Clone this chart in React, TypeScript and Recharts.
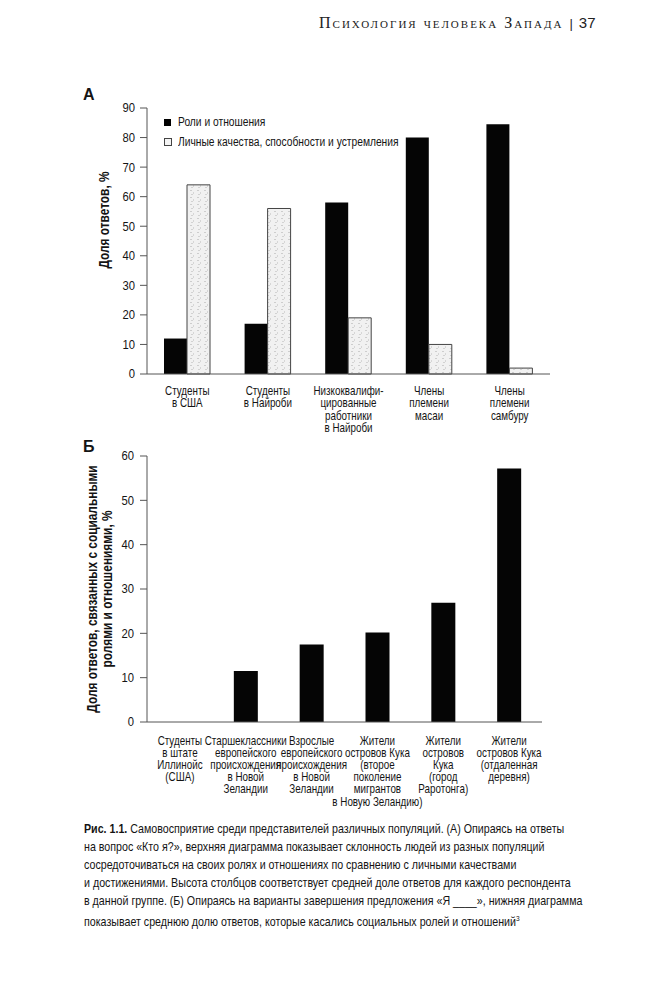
import React from 'react';
import { BarChart, Bar, XAxis, YAxis, Legend } from 'recharts';

const groupsA = [
  'Студенты\nв США',
  'Студенты\nв Найроби',
  'Низкоквалифи-\nцированные\nработники\nв Найроби',
  'Члены\nплемени\nмасаи',
  'Члены\nплемени\nсамбуру',
];
const rolesA = [12, 17, 58, 80, 84.5];
const traitsA = [64, 56, 19, 10, 2];
const ticksA = [0, 10, 20, 30, 40, 50, 60, 70, 80, 90];

const groupsB = [
  'Студенты\nв штате\nИллинойс\n(США)',
  'Старшеклассники\nевропейского\nпроисхождения\nв Новой\nЗеландии',
  'Взрослые\nевропейского\nпроисхождения\nв Новой\nЗеландии',
  'Жители\nостровов Кука\n(второе\nпоколение\nмигрантов\nв Новую Зеландию)',
  'Жители\nостровов\nКука\n(город\nРаротонга)',
  'Жители\nостровов Кука\n(отдаленная\nдеревня)',
];
const rolesB = [0, 11.5, 17.5, 20.2, 26.9, 57.2];
const ticksB = [0, 10, 20, 30, 40, 50, 60];

const captionLines = [
  'на вопрос «Кто я?», верхняя диаграмма показывает склонность людей из разных популяций',
  'сосредоточиваться на своих ролях и отношениях по сравнению с личными качествами',
  'и достижениями. Высота столбцов соответствует средней доле ответов для каждого респондента',
  'в данной группе. (Б) Опираясь на варианты завершения предложения «Я ____», нижняя диаграмма',
];

// no Arial Narrow here, so Liberation Sans squeezed horizontally
const FONT = '"Liberation Sans", Arial, sans-serif';
const SQUEEZE = 0.82;
const INK = '#141414';

const dataA = groupsA.map((g, i) => ({ name: g, roles: rolesA[i], traits: traitsA[i] }));
const dataB = groupsB.map((g, i) => ({ name: g, roles: rolesB[i] }));

function MultiTick(props: any) {
  const { x, y, payload, lineHeight } = props;
  const lines = String(payload.value).split('\n');
  return (
    <g transform={`translate(${x},${y}) scale(${SQUEEZE},1)`}>
      <text x={0} y={0} textAnchor="middle" fontSize={12} fontFamily={FONT} fill={INK}>
        {lines.map((l, i) => (
          <tspan key={i} x={0} dy={i === 0 ? '0.71em' : lineHeight}>
            {l}
          </tspan>
        ))}
      </text>
    </g>
  );
}

function NumTick(props: any) {
  const { x, y, payload } = props;
  return (
    <g transform={`translate(${x},${y}) scale(0.9,1)`}>
      <text x={0} y={0} dy="0.355em" textAnchor="end" fontSize={12.5} fontFamily={FONT} fill={INK}>
        {payload.value}
      </text>
    </g>
  );
}

function AxisTitle(props: any) {
  const { viewBox, lines, cx, cy } = props;
  const vb = viewBox || { x: 0, y: 0, height: 0 };
  const x = vb.x + cx;
  const y = vb.y + vb.height / 2 + cy;
  return (
    <g transform={`translate(${x},${y}) rotate(-90) scale(${SQUEEZE},1)`}>
      {lines.map((l: string, i: number) => (
        <text
          key={i}
          x={0}
          y={i * 15}
          textAnchor="middle"
          fontSize={14.5}
          fontWeight="bold"
          fontFamily={FONT}
          fill={INK}
        >
          {l}
        </text>
      ))}
    </g>
  );
}

function LegendA() {
  return (
    <div style={{ fontFamily: FONT, fontSize: 12.5, color: INK, lineHeight: '20px' }}>
      <div style={{ display: 'flex', alignItems: 'center' }}>
        <span style={{ width: 7, height: 7, background: '#000', marginRight: 7, flex: 'none' }} />
        <span style={{ display: 'inline-block', transform: `scaleX(${SQUEEZE})`, transformOrigin: 'left', whiteSpace: 'nowrap' }}>
          Роли и отношения
        </span>
      </div>
      <div style={{ display: 'flex', alignItems: 'center' }}>
        <span
          style={{ width: 6, height: 6, background: '#f4f4f4', border: '1px solid #444', marginRight: 6, flex: 'none' }}
        />
        <span style={{ display: 'inline-block', transform: `scaleX(${SQUEEZE})`, transformOrigin: 'left', whiteSpace: 'nowrap' }}>
          Личные качества, способности и устремления
        </span>
      </div>
    </div>
  );
}

export default function App() {
  return (
    <div
      style={{
        position: 'absolute',
        left: 0,
        top: 0,
        width: 672,
        height: 1000,
        background: '#fff',
        overflow: 'hidden',
      }}
    >
      <svg width={0} height={0} style={{ position: 'absolute' }}>
        <defs>
          <pattern id="grain" width="7" height="7" patternUnits="userSpaceOnUse">
            <rect width="7" height="7" fill="#f1f1f1" />
            <rect x="1" y="1" width="2" height="1" fill="#cdcdcd" />
            <rect x="4" y="3" width="1" height="2" fill="#d6d6d6" />
            <rect x="2" y="5" width="2" height="1" fill="#d2d2d2" />
          </pattern>
        </defs>
      </svg>

      <div
        style={{
          position: 'absolute',
          left: 319,
          top: 14,
          fontFamily: '"Liberation Serif", serif',
          fontVariant: 'small-caps',
          fontSize: 16,
          letterSpacing: 2,
          color: '#222',
          whiteSpace: 'nowrap',
        }}
      >
        Психология человека Запада
        <span style={{ fontFamily: FONT, fontVariant: 'normal', letterSpacing: 0, margin: '0 6px 0 6px', fontSize: 13 }}>|</span>
        <span style={{ fontFamily: FONT, fontVariant: 'normal', letterSpacing: 0, fontSize: 15 }}>37</span>
      </div>

      <div style={{ position: 'absolute', left: 83, top: 86, fontFamily: FONT, fontWeight: 'bold', fontSize: 16, color: INK }}>
        А
      </div>

      <div style={{ position: 'absolute', left: 0, top: 0 }}>
        <BarChart
          width={672}
          height={445}
          data={dataA}
          margin={{ top: 108, right: 122, left: 107, bottom: 11 }}
          barGap={0}
          barCategoryGap="21%"
        >
          <XAxis
            dataKey="name"
            axisLine={{ stroke: '#555' }}
            tickLine={false}
            interval={0}
            height={60}
            tickMargin={6}
            tick={<MultiTick lineHeight={12.5} />}
          />
          <YAxis
            width={40}
            domain={[0, 90]}
            ticks={ticksA}
            axisLine={{ stroke: '#555' }}
            tickLine={{ stroke: '#555' }}
            tickSize={7}
            tickMargin={5}
            tick={<NumTick />}
            label={<AxisTitle lines={['Доля ответов, %']} cx={2} cy={-21} />}
          />
          <Legend
            layout="horizontal"
            verticalAlign="middle"
            align="center"
            wrapperStyle={{ left: 164, top: 112, width: 300 }}
            content={() => <LegendA />}
          />
          <Bar dataKey="roles" fill="#050505" barSize={23} isAnimationActive={false} />
          <Bar
            dataKey="traits"
            fill="url(#grain)"
            stroke="#444"
            strokeWidth={1}
            barSize={23}
            isAnimationActive={false}
          />
        </BarChart>
      </div>

      <div style={{ position: 'absolute', left: 83, top: 438, fontFamily: FONT, fontWeight: 'bold', fontSize: 16, color: INK }}>
        Б
      </div>

      <div style={{ position: 'absolute', left: 0, top: 430 }}>
        <BarChart
          width={672}
          height={400}
          data={dataB}
          margin={{ top: 26, right: 130, left: 107, bottom: 8 }}
          barCategoryGap="32%"
        >
          <XAxis
            dataKey="name"
            axisLine={{ stroke: '#555' }}
            tickLine={false}
            interval={0}
            height={100}
            tickMargin={8}
            tick={<MultiTick lineHeight={12.2} />}
          />
          <YAxis
            width={40}
            domain={[0, 60]}
            ticks={ticksB}
            axisLine={{ stroke: '#555' }}
            tickLine={{ stroke: '#555' }}
            tickSize={7}
            tickMargin={6}
            tick={<NumTick />}
            label={
              <AxisTitle
                lines={['Доля ответов, связанных с социальными', 'ролями и отношениями, %']}
                cx={-10}
                cy={0}
              />
            }
          />
          <Bar dataKey="roles" fill="#050505" barSize={24} isAnimationActive={false} />
        </BarChart>
      </div>

      <div
        style={{
          position: 'absolute',
          left: 84,
          top: 820,
          fontFamily: FONT,
          fontSize: 13,
          lineHeight: '18px',
          color: INK,
          whiteSpace: 'nowrap',
          transform: `scaleX(${SQUEEZE})`,
          transformOrigin: 'left top',
        }}
      >
        <div>
          <b>Рис. 1.1.</b> Самовосприятие среди представителей различных популяций. (А) Опираясь на ответы
        </div>
        {captionLines.map((l, i) => (
          <div key={i}>{l}</div>
        ))}
        <div>
          показывает среднюю долю ответов, которые касались социальных ролей и отношений
          <sup style={{ fontSize: 8 }}>3</sup>
        </div>
      </div>
    </div>
  );
}
